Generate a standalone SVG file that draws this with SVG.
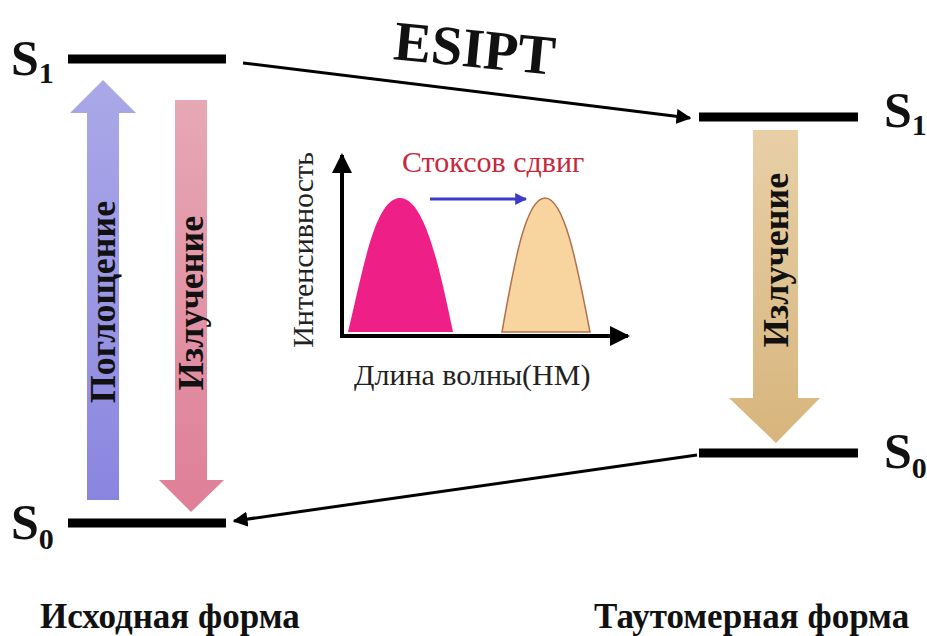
<svg xmlns="http://www.w3.org/2000/svg" width="927" height="636" viewBox="0 0 927 636">
<defs>
<linearGradient id="gPurple" x1="0" y1="0" x2="0" y2="1"><stop offset="0" stop-color="#aba8e8"/><stop offset="1" stop-color="#8a86e0"/></linearGradient>
<linearGradient id="gPink" x1="0" y1="0" x2="0" y2="1"><stop offset="0" stop-color="#e6a8b4"/><stop offset="1" stop-color="#df7f97"/></linearGradient>
<linearGradient id="gTan" x1="0" y1="0" x2="0" y2="1"><stop offset="0" stop-color="#e8cfa6"/><stop offset="1" stop-color="#d7b57c"/></linearGradient>
<marker id="ah" viewBox="0 0 10 10" refX="9" refY="5" markerWidth="5" markerHeight="5" orient="auto-start-reverse"><path d="M0,0 L10,5 L0,10 Z" fill="#000"/></marker>
<marker id="ahBlue" viewBox="0 0 10 10" refX="9" refY="5" markerWidth="4" markerHeight="4" orient="auto"><path d="M0,0 L10,5 L0,10 Z" fill="#3b3bc8"/></marker>
</defs>
<style>
text{font-family:"Liberation Serif","Times New Roman",Tinos,"DejaVu Serif",serif}
.bar{stroke:#000;stroke-width:9}
.lvl{font-weight:bold;font-size:50px;fill:#111}
.sub{font-size:30px}
.vlab{font-weight:bold;font-size:36px;fill:#111}
.form{font-weight:bold;font-size:35px;fill:#111}
.chart{font-size:30px;fill:#222}
.conn{stroke:#000;stroke-width:3;fill:none}
</style>
<rect width="927" height="636" fill="#fff"/>

<g id="left-S1"><line class="bar" x1="68" y1="59" x2="226" y2="59"/><text class="lvl" x="11" y="75">S<tspan class="sub" dy="8">1</tspan></text></g>
<g id="left-S0"><line class="bar" x1="68" y1="523" x2="226" y2="523"/><text class="lvl" x="11" y="539">S<tspan class="sub" dy="10">0</tspan></text></g>
<g id="right-S1"><line class="bar" x1="699" y1="117" x2="858" y2="117"/><text class="lvl" x="884" y="127">S<tspan class="sub" dy="8">1</tspan></text></g>
<g id="right-S0"><line class="bar" x1="699" y1="453" x2="858" y2="453"/><text class="lvl" x="884" y="468">S<tspan class="sub" dy="10">0</tspan></text></g>

<g id="absorption">
<path d="M87,500 L87,113 L70,113 L103,80 L136,113 L119,113 L119,500 Z" fill="url(#gPurple)"/>
<text class="vlab" transform="translate(115,302) rotate(-90)" text-anchor="middle">Поглощение</text>
</g>
<g id="emission-left">
<path d="M175,100 L207,100 L207,480 L224,480 L191,512 L159,480 L175,480 Z" fill="url(#gPink)"/>
<text class="vlab" transform="translate(203,303) rotate(-90)" text-anchor="middle">Излучение</text>
</g>
<g id="emission-right">
<path d="M753,130 L798,130 L798,398 L820,398 L776,443 L729,398 L753,398 Z" fill="url(#gTan)"/>
<text class="vlab" transform="translate(788,260) rotate(-90)" text-anchor="middle">Излучение</text>
</g>

<g id="connectors">
<line class="conn" x1="243" y1="63" x2="690" y2="118" marker-end="url(#ah)"/>
<line class="conn" x1="697" y1="455" x2="234" y2="521" marker-end="url(#ah)"/>
</g>
<text class="lvl" style="font-size:56px" text-anchor="middle" transform="translate(473,67) rotate(5.5)">ESIPT</text>

<g id="chart">
<path d="M348,332 C363,270 375,198 400,198 C425,198 440,270 453,332 Z" fill="#ee1f87"/>
<path d="M502,332 C513,270 525,198 545,198 C565,198 578,270 590,332 Z" fill="#f8d49f" stroke="#b3704e" stroke-width="1.5"/>
<line x1="342" y1="336" x2="342" y2="155" stroke="#000" stroke-width="4" marker-end="url(#ah)"/>
<line x1="340" y1="336" x2="628" y2="336" stroke="#000" stroke-width="4" marker-end="url(#ah)"/>
<line x1="430" y1="199" x2="526" y2="199" stroke="#3b3bc8" stroke-width="3" marker-end="url(#ahBlue)"/>
<text class="chart" x="402" y="172" style="fill:#c8283c">Стоксов сдвиг</text>
<text class="chart" transform="translate(313,250) rotate(-90)" text-anchor="middle">Интенсивность</text>
<text class="chart" x="354" y="385">Длина волны(НМ)</text>
</g>

<text class="form" x="40" y="628">Исходная форма</text>
<text class="form" x="594" y="628">Таутомерная форма</text>
</svg>
